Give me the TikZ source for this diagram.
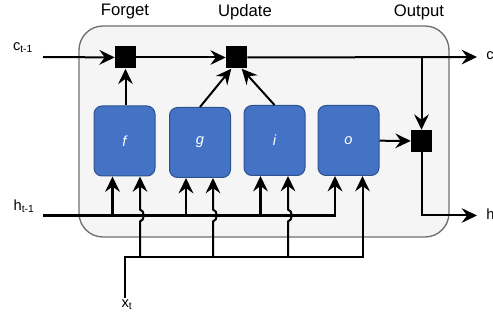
\documentclass[tikz,border=0pt]{standalone}
\usepackage{fontspec}
\setmainfont{Liberation Sans}
\usetikzlibrary{arrows.meta,calc}

\definecolor{gateblue}{RGB}{68,114,196}
\definecolor{gateline}{RGB}{47,82,143}
\definecolor{cellfill}{RGB}{245,245,245}
\definecolor{cellline}{RGB}{110,110,110}

\tikzset{
  gate/.style={draw=gateline, fill=gateblue, line width=0.75pt, rounded corners=6pt,
    minimum width=45.75pt, minimum height=52.5pt, inner sep=0pt, text=white,
    font=\itshape\fontsize{11}{13}\selectfont},
  mulbox/.style={fill=black, minimum width=15.75pt, minimum height=16.5pt, inner sep=0pt},
  wire/.style={line width=1.5pt},
  hwire/.style={line width=2pt},
  tip/.style={-{Stealth[length=11.5pt,width=11pt,inset=4pt]}},
  lbl/.style={inner sep=0.75pt, font=\fontsize{11}{13}\selectfont},
  title/.style={inner sep=0.75pt, font=\fontsize{12.5}{14}\selectfont}
}

\begin{document}
\begin{tikzpicture}[x=0.75pt,y=0.75pt,yscale=-1,xscale=1]
\useasboundingbox (0,0) rectangle (493,320);

%Shape: Rounded Rectangle (cell)
\draw[draw=cellline, fill=cellfill, line width=1pt, rounded corners=18pt] (79,26) rectangle (449,237);

% Gates
\node[gate] (f) at (124.5,141) {f};
\node[gate] (g) at (200,142.5) {g};
\node[gate] (i) at (274.5,140.5) {i};
\node[gate] (o) at (348.5,140.5) {o};

% Multiply boxes
\node[mulbox] (mulf) at (125.5,57.5) {};
\node[mulbox] (mulu) at (236.5,57.5) {};
\node[mulbox] (mulo) at (421.5,141) {};

% Text Node
\node[title] (tforget) at (125,12) {Forget};
\node[title] (tupdate) at (245,12) {Update};
\node[title] (toutput) at (419,12) {Output};
\node[lbl] (lcin) at (23,48) {c\textsubscript{t-1}};
\node[lbl] (lhin) at (24,206) {h\textsubscript{t-1}};
\node[lbl] (lxin) at (127,305) {x\textsubscript{t}};
\node[lbl, anchor=west] (lcout) at (485,57) {c\textsubscript{t}};
\node[lbl, anchor=west] (lhout) at (485,215) {h\textsubscript{t}};

% Coordinates
\coordinate (cin) at (43,57);
\coordinate (cout) at (477,57);
\coordinate (cdown) at (421.5,57);
\coordinate (hin) at (43,215.5);
\coordinate (hout) at (477,215.5);
\coordinate (xin) at (125,298);
\coordinate (xbus) at (125,257);
\coordinate (fh) at ($(f.south)+(-12,0)$);
\coordinate (fx) at ($(f.south)+(15.5,0)$);
\coordinate (gh) at ($(g.south)+(-14,0)$);
\coordinate (gx) at ($(g.south)+(13,0)$);
\coordinate (ih) at ($(i.south)+(-14,0)$);
\coordinate (ix) at ($(i.south)+(13.5,0)$);
\coordinate (oh) at ($(o.south)+(-13.5,0)$);
\coordinate (ox) at ($(o.south)+(14,0)$);

% Cell state line
\draw[wire,tip] (cin) -- (mulf);
\draw[wire,tip] (mulf) -- (mulu);
\draw[wire,tip] (mulu) -- (cout);
\draw[wire,tip] (cdown) -- (mulo);
\draw[wire,tip] (mulo.south) |- (hout);

% Gate outputs
\draw[wire,tip] (f.north -| mulf) -- (mulf);
\draw[wire,tip] (g.north) -- (mulu.245);
\draw[wire,tip] (i.north) -- (mulu.295);
\draw[wire,tip] (o) -- (mulo);

% h_{t-1} inputs
\draw[hwire,tip] (hin) -| (oh);
\draw[hwire,tip] (fh |- hin) -- (fh);
\draw[hwire,tip] (gh |- hin) -- (gh);
\draw[hwire,tip] (ih |- hin) -- (ih);

% x_t inputs (hopping over h line)
\draw[wire,tip] (xin) -- (xbus) -| (ox);
\draw[wire,tip] (fx |- xbus) -- ($(fx |- hin)+(0,6)$) .. controls +(5,-1) and +(5,1) .. ($(fx |- hin)+(0,-6)$) -- (fx);
\draw[wire,tip] (gx |- xbus) -- ($(gx |- hin)+(0,6)$) .. controls +(5,-1) and +(5,1) .. ($(gx |- hin)+(0,-6)$) -- (gx);
\draw[wire,tip] (ix |- xbus) -- ($(ix |- hin)+(0,6)$) .. controls +(5,-1) and +(5,1) .. ($(ix |- hin)+(0,-6)$) -- (ix);
\end{tikzpicture}
\end{document}
